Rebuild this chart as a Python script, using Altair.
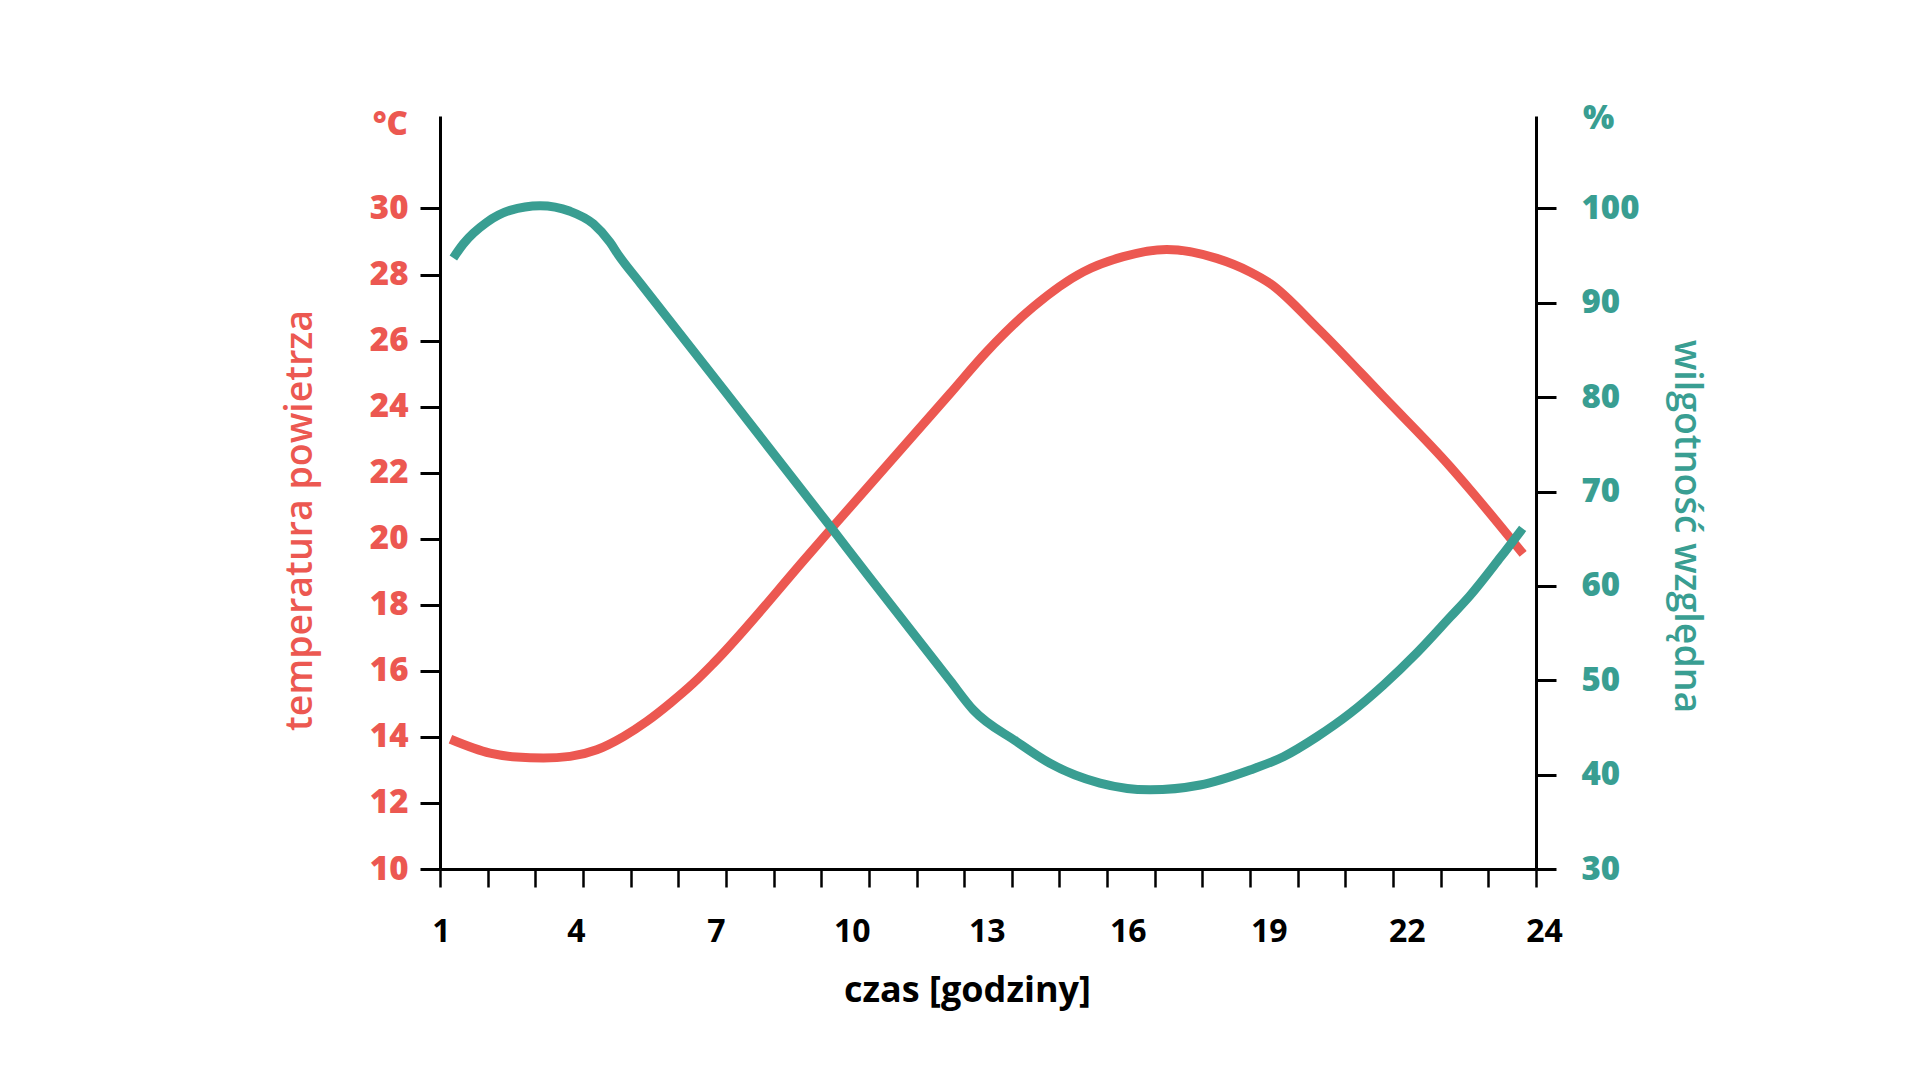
import altair as alt
import pandas as pd

# ---- data ----
hours_temp = [1.22, 2.05, 2.61, 3.17, 3.73, 4.29, 4.85, 5.34, 5.83, 6.32, 6.74, 8.69, 9.22,
              11.70, 12.47, 13.45, 14.50, 15.34, 16.25, 17.30, 18.00, 18.42, 19.40, 20.80,
              22.20, 22.62, 23.73]
temperature = [13.93, 13.51, 13.39, 13.36, 13.41, 13.61, 14.01, 14.47, 15.02, 15.63, 16.23, 19.44, 20.32,
               24.39, 25.66, 27.02, 28.08, 28.54, 28.76, 28.49, 28.08, 27.73, 26.40, 24.30,
               22.18, 21.48, 19.54]

hours_hum = [1.28, 1.49, 1.98, 2.47, 3.10, 3.73, 4.22, 4.57, 4.74, 5.20, 7.00, 9.22, 10.00,
             11.70, 12.19, 13.10, 13.80, 14.85, 15.90, 16.95, 18.00, 18.70, 19.40, 20.10,
             20.80, 21.50, 22.20, 22.62, 23.25, 23.72]
humidity = [94.76, 96.25, 98.53, 99.8, 100.3, 99.7, 98.36, 96.4, 95.1, 92.1, 80.5, 66.1, 61.0,
            50.0, 46.86, 43.5, 41.2, 39.1, 38.39, 38.9, 40.5, 41.9, 44.0, 46.5,
            49.5, 52.9, 56.7, 59.0, 63.0, 66.1]

x_ticks = list(range(1, 25))
x_labels = [1, 4, 7, 10, 13, 16, 19, 22, 24]
x_label_shift = [1, -7, -10, -17, -25, -27, -29, -34, 8]
temp_ticks = list(range(10, 31, 2))
hum_ticks = list(range(30, 101, 10))
temp_domain = [10, 32.8]
hum_domain = [30, 109.8]

RED = "#EC5851"
TEAL = "#399E92"
FONT = "Open Sans"

df_t = pd.DataFrame({"godzina": hours_temp, "temperatura": temperature})
df_h = pd.DataFrame({"godzina": hours_hum, "wilgotnosc": humidity})

label_expr = "indexof([" + ",".join(str(v) for v in x_labels) + "], datum.value) >= 0 ? datum.label : ''"
offset_cond = {
    "condition": [{"test": f"datum.value == {v}", "value": o} for v, o in zip(x_labels, x_label_shift)],
    "value": 0,
}

x_axis = alt.Axis(
    values=x_ticks, labelExpr=label_expr, labelOffset=offset_cond,
    labelFlush=False, labelOverlap=False,
    tickSize=18, tickWidth=2.5, tickColor="black",
    domainColor="black", domainWidth=3, grid=False,
    labelFont=FONT, labelFontSize=32, labelFontWeight="bold", labelColor="black",
    labelPadding=29,
    title="czas [godziny]", titleFont=FONT, titleFontSize=36, titleFontWeight="bold",
    titleColor="black", titleX=527, titleY=121, titleAlign="center", titleBaseline="middle",
)

x_enc = alt.X("godzina:Q", scale=alt.Scale(domain=[1, 24], nice=False, zero=False), axis=x_axis)

red = alt.Chart(df_t).mark_line(color=RED, strokeWidth=9, interpolate="monotone").encode(
    x=x_enc,
    y=alt.Y("temperatura:Q",
            scale=alt.Scale(domain=temp_domain, nice=False, zero=False),
            axis=alt.Axis(orient="left", values=temp_ticks, format="d", grid=False,
                          tickSize=20, tickWidth=3, tickColor="black",
                          domainColor="black", domainWidth=3,
                          labelFont=FONT, labelFontSize=33, labelFontWeight=800,
                          labelColor=RED, labelPadding=12,
                          title="temperatura powietrza", titleFont=FONT, titleFontSize=37.5,
                          titleFontWeight=600, titleColor=RED, titlePadding=50, titleY=404)),
)

teal = alt.Chart(df_h).mark_line(color=TEAL, strokeWidth=9, interpolate="monotone").encode(
    x=x_enc,
    y=alt.Y("wilgotnosc:Q",
            scale=alt.Scale(domain=hum_domain, nice=False, zero=False),
            axis=alt.Axis(orient="right", values=hum_ticks, format="d", grid=False,
                          tickSize=20, tickWidth=3, tickColor="black",
                          domainColor="black", domainWidth=3,
                          labelFont=FONT, labelFontSize=33, labelFontWeight=800,
                          labelColor=TEAL, labelPadding=25,
                          title="wilgotność względna", titleFont=FONT, titleFontSize=37.5,
                          titleFontWeight=600, titleColor=TEAL, titlePadding=27,
                          titleAngle=90, titleY=410)),
)

unit_c = alt.Chart(pd.DataFrame({"t": ["°C"]})).mark_text(
    font=FONT, fontSize=33, fontWeight=800, color=RED, align="right", baseline="middle"
).encode(text="t:N", x=alt.value(-32), y=alt.value(9))

unit_p = alt.Chart(pd.DataFrame({"t": ["%"]})).mark_text(
    font=FONT, fontSize=33, fontWeight=800, color=TEAL, align="left", baseline="middle"
).encode(text="t:N", x=alt.value(1143), y=alt.value(3))

chart = alt.layer(red, teal, unit_c, unit_p).resolve_scale(y="independent").properties(
    width=1096, height=753,
    autosize=alt.AutoSizeParams(type="none"),
    padding={"left": 440, "top": 116, "right": 384, "bottom": 211},
    background="white",
).configure_view(stroke=None)

chart.save("out.html", embed_options={"renderer": "svg", "actions": False})
